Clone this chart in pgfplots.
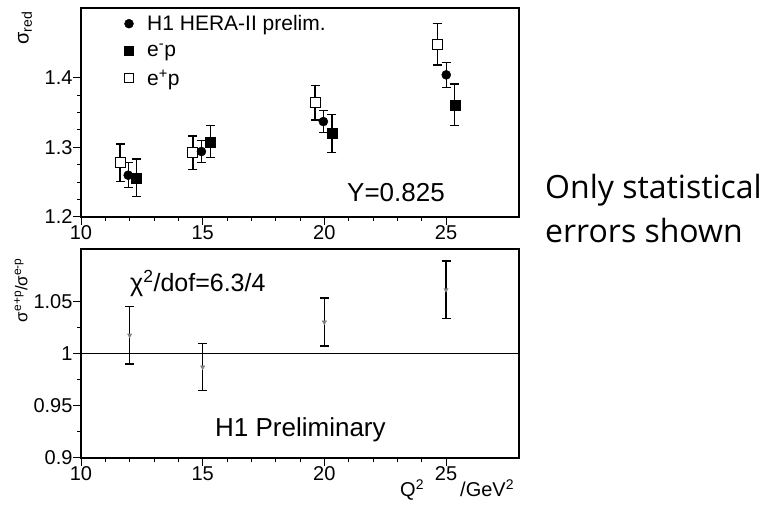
\documentclass[border=0pt]{standalone}
\usepackage{pgfplots}
\pgfplotsset{compat=1.18}
\usepackage{fontspec}
\setmainfont{Liberation Sans}
\newfontfamily\notefont{Open Sans}

\pgfplotsset{
  h1axis/.style={
    scale only axis, width=438pt, height=209pt,
    xmin=10, xmax=28,
    xtick={10,15,20,25}, minor x tick num=4,
    tick align=outside, xtick pos=left, ytick pos=left,
    major tick length=8pt, minor tick length=4pt,
    axis line style={line width=1.2pt},
    every tick/.style={black, line width=1pt},
    tick label style={font=\fontsize{20}{24}\selectfont},
    xticklabel style={yshift=3pt},
    yticklabel style={xshift=3pt},
    /pgf/number format/assume math mode=true,
    clip=false,
  },
  errs/.style={
    only marks, draw=black, line width=1.4pt,
    error bars/y dir=both, error bars/y explicit,
    error bars/error bar style={line width=1.4pt, draw=black},
    error bars/error mark options={rotate=90, mark size=4.5pt, line width=1.4pt, draw=black},
  },
  keyimg/.style={
    legend image code/.code={
      \draw[##1] plot coordinates {(0pt,0pt)};
      \path (-10pt,0pt) (16pt,0pt);
    }
  },
}

% sigma_red per Q^2 bin: x, value, stat. error
\pgfplotstableread{
x     y      e
11.61 1.278  0.027
14.60 1.292  0.024
19.62 1.364  0.025
24.64 1.448  0.030
}\eplus
\pgfplotstableread{
x     y      e
11.94 1.260  0.018
14.95 1.294  0.016
19.96 1.337  0.016
25.01 1.404  0.018
}\combined
\pgfplotstableread{
x     y      e
12.28 1.256  0.027
15.32 1.308  0.023
20.31 1.320  0.027
25.36 1.361  0.030
}\eminus
% ratio e+p / e-p
\pgfplotstableread{
x   y       e
12  1.0175  0.0275
15  0.987   0.0225
20  1.030   0.023
25  1.061   0.0275
}\ratio

\begin{document}
\begin{tikzpicture}
\useasboundingbox (0pt,0pt) rectangle (767pt,505pt);

% upper panel: reduced cross section
\begin{axis}[h1axis,
  at={(81pt,288pt)}, anchor=south west,
  ymin=1.2, ymax=1.5, ytick={1.2,1.3,1.4}, minor y tick num=3,
  legend style={draw=none, fill=none, at={(axis description cs:0.079,0.985)},
    anchor=north west, font=\fontsize{21}{25}\selectfont,
    legend cell align=left, row sep=8pt},
]
\addlegendimage{keyimg, only marks, mark=*, mark size=4.5pt, black}
\addlegendentry{H1 HERA-II prelim.}
\addlegendimage{keyimg, only marks, mark=square*, mark size=4.5pt, black}
\addlegendentry{e\textsuperscript{-}p}
\addlegendimage{keyimg, only marks, mark=square, mark size=4.5pt, black, mark options={line width=1pt}}
\addlegendentry{e\textsuperscript{+}p}
\addplot[errs, mark=square*, mark size=5pt, mark options={fill=white, draw=black, line width=1pt}, forget plot]
  table[x=x, y=y, y error=e] {\eplus};
\addplot[errs, mark=*, mark size=4.5pt, mark options={fill=black, line width=0.5pt}, forget plot]
  table[x=x, y=y, y error=e] {\combined};
\addplot[errs, mark=square*, mark size=5pt, mark options={fill=black, line width=0.5pt}, forget plot]
  table[x=x, y=y, y error=e] {\eminus};
\end{axis}

% lower panel: ratio
\begin{axis}[h1axis,
  at={(81pt,47pt)}, anchor=south west,
  ymin=0.9, ymax=1.1, ytick={0.9,0.95,1,1.05}, minor y tick num=1,
  yticklabels={0.9,0.95,1,1.05},
]
\addplot[no marks, line width=0.8pt, black] coordinates {(10,1) (28,1)};
\addplot[errs, mark=triangle*, mark size=2.5pt, mark options={rotate=180, fill=gray, draw=gray, line width=0.4pt}]
  table[x=x, y=y, y error=e] {\ratio};
\end{axis}

% text annotations
\node[anchor=base, font=\fontsize{26}{30}\selectfont] at (396pt,303pt) {Y=0.825};
\node[anchor=base west, inner sep=0pt, font=\fontsize{25}{30}\selectfont] at (130pt,213pt) {χ\textsuperscript{2}/dof=6.3/4};
\node[anchor=base west, inner sep=0pt, font=\fontsize{26}{30}\selectfont] at (215pt,68pt) {H1 Preliminary};
\node[rotate=90, font=\fontsize{20}{24}\selectfont] at (25pt,477pt) {σ\textsubscript{red}};
\node[rotate=90, font=\fontsize{17}{20}\selectfont] at (21pt,215pt) {σ\textsuperscript{e+p}/σ\textsuperscript{e-p}};
\node[anchor=base west, inner sep=0pt, font=\fontsize{20}{24}\selectfont] at (400pt,8pt) {Q\textsuperscript{2}};
\node[anchor=base west, inner sep=0pt, font=\fontsize{20}{24}\selectfont] at (460pt,8pt) {/GeV\textsuperscript{2}};
\node[anchor=base west, inner sep=0pt, font=\notefont\fontsize{32}{43}\selectfont, align=left] at (545pt,306pt) {Only statistical};
\node[anchor=base west, inner sep=0pt, font=\notefont\fontsize{32}{43}\selectfont, align=left] at (545pt,262pt) {errors shown};
\end{tikzpicture}
\end{document}
